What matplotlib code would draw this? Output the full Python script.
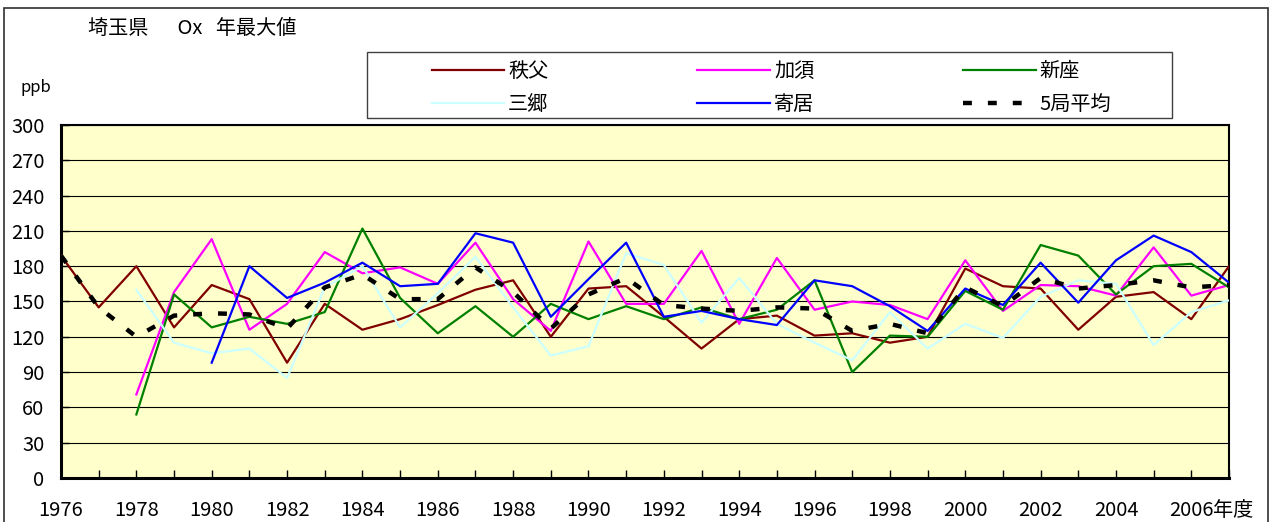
import numpy as np
import matplotlib
matplotlib.use("Agg")
import matplotlib.pyplot as plt
from matplotlib.patches import Rectangle
from matplotlib.ticker import MultipleLocator

plt.rcParams['font.family'] = ['Noto Sans CJK JP', 'DejaVu Sans']

nan = np.nan
years = list(range(1976, 2008))
chichibu = [189, 145, 180, 128, 164, 152, 98, 148, 126, 135, 147, 160, 168, 120, 161, 163,
            137, 110, 135, 138, 121, 123, 115, 120, 178, 163, 161, 126, 154, 158, 135, 180]
kazo = [nan, nan, 71, 158, 203, 126, 148, 192, 174, 179, 165, 200, 152, 125, 201, 148,
        148, 193, 131, 187, 143, 150, 147, 135, 185, 142, 164, 163, 155, 196, 155, 164]
niiza = [nan, nan, 54, 156, 128, 137, 131, 141, 212, 153, 123, 146, 120, 148, 135, 146,
         135, 145, 135, 143, 168, 90, 121, 120, 159, 143, 198, 189, 156, 180, 182, 162]
misato = [nan, nan, 160, 115, 106, 110, 85, 162, 180, 128, 157, 188, 145, 104, 112, 191,
          181, 132, 170, 131, 115, 100, 141, 110, 131, 119, 154, 168, 165, 113, 141, 151]
yorii = [nan, nan, nan, nan, 98, 180, 153, 166, 183, 163, 165, 208, 200, 137, 169, 200,
         137, 142, 135, 130, 168, 163, 146, 125, 161, 147, 183, 149, 185, 206, 192, 166]
average5 = [189, 145, 120, 138, 140, 139, 127, 162, 173, 152, 152, 179, 158, 127, 156, 170,
            147, 144, 142, 145, 144, 125, 131, 123, 162, 146, 170, 161, 164, 168, 162, 164]

series_names = ['秩父', '加須', '新座', '三郷', '寄居', '5局平均']
series_colors = ['#800000', '#FF00FF', '#008000', '#CCFFFF', '#0000FF', '#000000']
y_ticks = list(range(0, 301, 30))
x_label_years = list(range(1976, 2007, 2))
x_labels = [str(y) for y in x_label_years]
title_text = '埼玉県\u3000  Ox   年最大値'
unit_text = 'ppb'
last_suffix = '年度'

W, H = 1272, 522
fig = plt.figure(figsize=(W / 100, H / 100), dpi=100)
fig.patch.set_facecolor('white')

left, right, top, bottom = 61, 1229, 125, 478
ax = fig.add_axes([left / W, (H - bottom) / H, (right - left) / W, (bottom - top) / H])
ax.set_facecolor('#FFFFCC')

data = [chichibu, kazo, niiza, misato, yorii]
handles = []
for vals, name, col in zip(data, series_names[:5], series_colors[:5]):
    h, = ax.plot(years, vals, color=col, lw=1.6, label=name, zorder=3)
    handles.append(h)
h_avg, = ax.plot(years, average5, color='black', lw=3.2, linestyle=(0, (2.0, 3.6)),
                 dash_capstyle='butt', label=series_names[5], zorder=4)
handles.append(h_avg)

ax.set_xlim(1976, 2007)
ax.set_ylim(0, 300)
ax.set_yticks(y_ticks)
ax.set_xticks(x_label_years)
ax.set_xticklabels(x_labels)
ax.xaxis.set_minor_locator(MultipleLocator(1))
ax.yaxis.grid(True, color='black', lw=0.8, zorder=1)
ax.set_axisbelow(True)
ax.tick_params(axis='x', which='both', direction='in', length=6, width=1, pad=16, labelsize=14.5)
ax.tick_params(axis='y', which='both', direction='in', length=6, width=1, pad=12, labelsize=14.5)
for s in ['left', 'bottom']:
    ax.spines[s].set_linewidth(2.2)
for s in ['top', 'right']:
    ax.spines[s].set_linewidth(1.5)

ax.annotate(last_suffix, xy=(2006, 0), xycoords=('data', 'axes fraction'),
            xytext=(22, -33), textcoords='offset pixels', ha='left', va='center', fontsize=14.5)

fig.text(88 / W, 1 - 28 / H, title_text, fontsize=14.5, va='center', ha='left')
fig.text(20 / W, 1 - 88 / H, unit_text, fontsize=12, va='center', ha='left')

# legend frame box
lx0, lx1, ly0, ly1 = 367, 1172, 52, 118
fig.patches.append(Rectangle((lx0 / W, 1 - ly1 / H), (lx1 - lx0) / W, (ly1 - ly0) / H,
                             transform=fig.transFigure, facecolor='white',
                             edgecolor='#404040', lw=1.0, zorder=1))
order = [0, 3, 1, 4, 2, 5]
leg = fig.legend([handles[i] for i in order], [series_names[i] for i in order],
                 ncol=3, loc='center',
                 bbox_to_anchor=((lx0 + lx1) / 2 / W + 2 / W, 1 - 88 / H),
                 fontsize=14.5, frameon=False,
                 handlelength=3.6, handletextpad=0.2, labelspacing=0.6, borderpad=0.0,
                 columnspacing=7.4, borderaxespad=0)
leg.set_zorder(2)

fig.patches.append(Rectangle((4 / W, -0.1), 1264 / W, (1 - 8 / H) + 0.1,
                             transform=fig.transFigure, fill=False,
                             edgecolor='#303030', lw=1.2))

fig.savefig('out.png', dpi=100)
